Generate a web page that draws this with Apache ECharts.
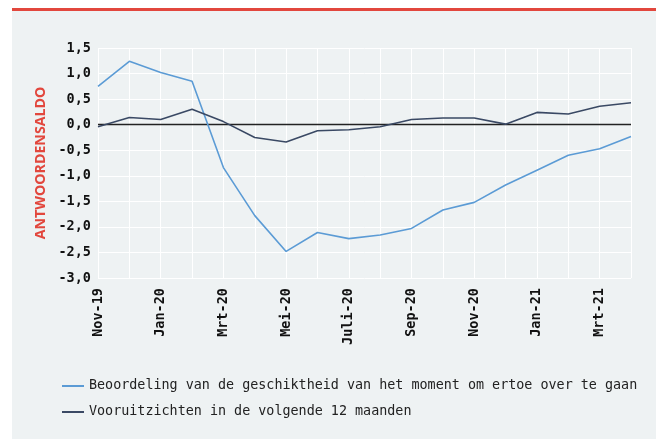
<!DOCTYPE html>
<html>
<head>
<meta charset="utf-8">
<script src="https://cdn.jsdelivr.net/npm/echarts@6/dist/echarts.min.js"></script>
<style>
html,body{margin:0;padding:0;background:#ffffff;}
#chart{width:656px;height:439px;}
</style>
</head>
<body>
<div id="chart"></div>
<script>
var categories = ['Nov-19','Dec-19','Jan-20','Feb-20','Mrt-20','Apr-20','Mei-20','Jun-20','Juli-20','Aug-20','Sep-20','Okt-20','Nov-20','Dec-20','Jan-21','Feb-21','Mrt-21','Apr-21'];
var beoordeling = [0.75,1.24,1.02,0.85,-0.84,-1.78,-2.48,-2.11,-2.23,-2.16,-2.03,-1.67,-1.52,-1.18,-0.89,-0.60,-0.47,-0.23];
var vooruitzichten = [-0.04,0.14,0.10,0.30,0.06,-0.25,-0.34,-0.12,-0.10,-0.04,0.10,0.13,0.13,0.01,0.24,0.21,0.36,0.43];
var seriesNames = ['Beoordeling van de geschiktheid van het moment om ertoe over te gaan','Vooruitzichten in de volgende 12 maanden'];
var yTicks = {min:-3, max:1.5, interval:0.5};

var chart = echarts.init(document.getElementById('chart'), null, {renderer:'canvas'});
var mono = '"DejaVu Sans Mono", monospace';
chart.setOption({
  animation:false,
  backgroundColor:'#ffffff',
  graphic:[
    {type:'rect', z:-10, shape:{x:12,y:11,width:644,height:428}, style:{fill:'#eef2f3'}},
    {type:'rect', z:-9, shape:{x:12,y:8,width:644,height:3}, style:{fill:'#e2473d'}}
  ],
  grid:{left:98, right:25, top:48, bottom:161},
  legend:{
    orient:'vertical', left:57, top:373,
    itemWidth:22, itemHeight:2, itemGap:10, icon:'rect',
    textStyle:{fontFamily:mono, fontSize:13.4, color:'#222', lineHeight:16},
    itemStyle:{borderWidth:0},
    data:seriesNames
  },
  xAxis:{
    type:'category', data:categories, boundaryGap:false,
    axisLine:{show:false}, axisTick:{show:false},
    splitLine:{show:true, interval:0, lineStyle:{color:'#ffffff', width:1}},
    axisLabel:{interval:1, rotate:90, margin:10, fontFamily:mono, fontWeight:'bold', fontSize:13.5, color:'#111'}
  },
  yAxis:{
    type:'value', min:yTicks.min, max:yTicks.max, interval:yTicks.interval,
    name:'ANTWOORDENSALDO', nameLocation:'middle', nameGap:49,
    nameTextStyle:{color:'#e2473d', fontFamily:'"Open Sans", sans-serif', fontWeight:'bold', fontSize:14.2},
    axisLine:{show:false}, axisTick:{show:false},
    splitLine:{lineStyle:{color:'#ffffff', width:1}},
    axisLabel:{margin:7, fontFamily:mono, fontWeight:'bold', fontSize:13.5, color:'#111',
      formatter:function(v){return v.toFixed(1).replace('.', ',');}}
  },
  series:[
    {name:seriesNames[0], type:'line', data:beoordeling, showSymbol:false, symbol:'none',
     lineStyle:{color:'#5b9bd5', width:1.6}, itemStyle:{color:'#5b9bd5'}, z:3,
     markLine:{silent:true, symbol:'none', label:{show:false}, lineStyle:{color:'#222', width:1.3, type:'solid'}, data:[{yAxis:0}], z:1}},
    {name:seriesNames[1], type:'line', data:vooruitzichten, showSymbol:false, symbol:'none',
     lineStyle:{color:'#3a4964', width:1.6}, itemStyle:{color:'#3a4964'}, z:4}
  ]
});
</script>
</body>
</html>
